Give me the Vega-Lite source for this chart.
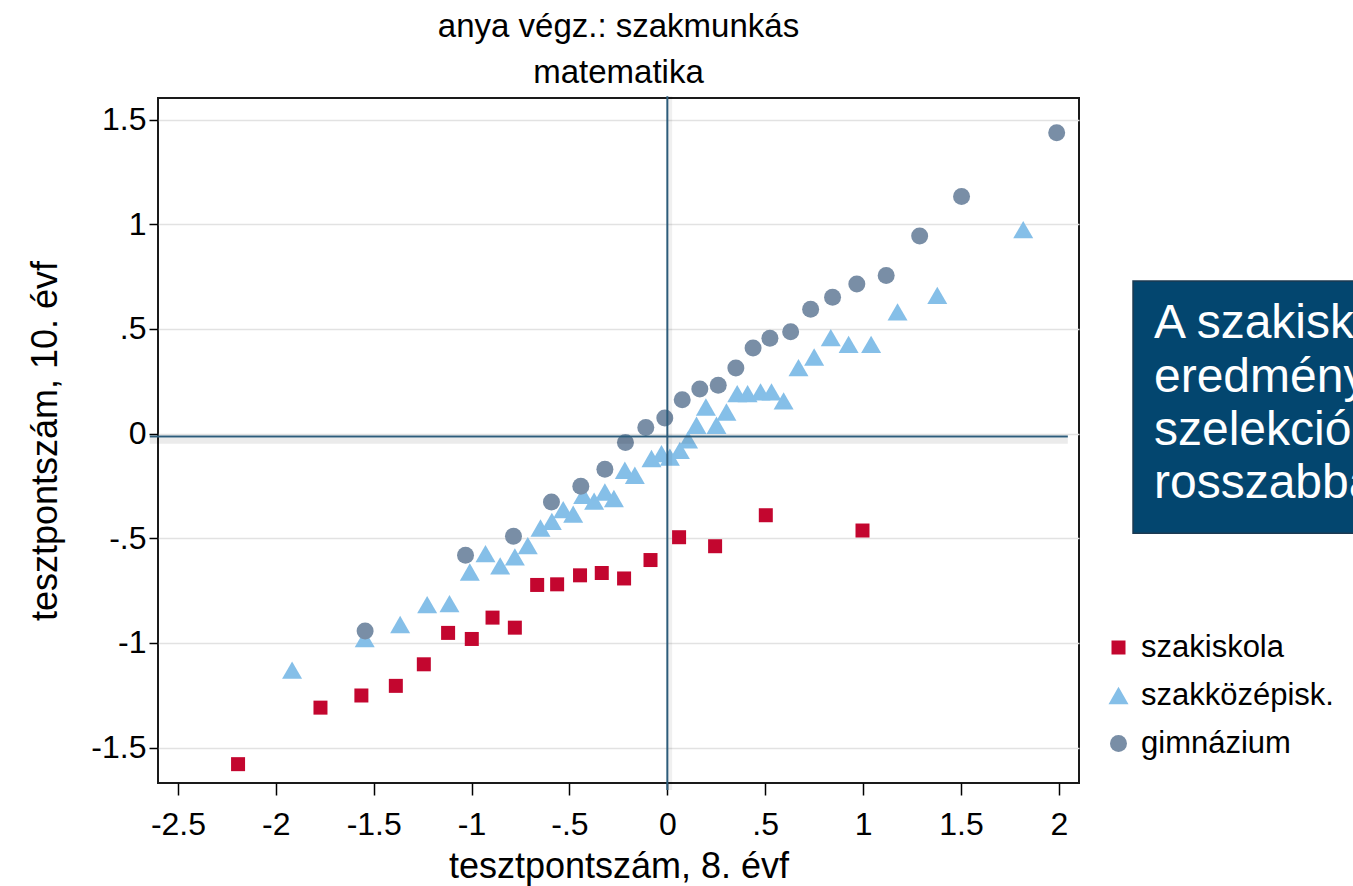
{
  "$schema": "https://vega.github.io/schema/vega-lite/v6.json",
  "autosize": {"type": "none"},
  "padding": {"left": 158, "top": 98, "right": 274, "bottom": 103},
  "width": 921,
  "height": 685,
  "background": "white",
  "title": {
    "text": ["anya végz.: szakmunkás", "matematika"],
    "font": "Liberation Sans",
    "fontSize": 33,
    "fontWeight": "normal",
    "color": "#000000",
    "anchor": "middle",
    "lineHeight": 46,
    "offset": 4
  },
  "encoding": {
    "x": {
      "field": "x", "type": "quantitative",
      "scale": {"domain": [-2.602, 2.103], "nice": false, "zero": false},
      "axis": {
        "title": "tesztpontszám, 8. évf",
        "values": [-2.5, -2, -1.5, -1, -0.5, 0, 0.5, 1, 1.5, 2],
        "labelExpr": "datum.value == 0 ? '0' : replace(toString(datum.value), '0.', '.')",
        "grid": false, "domain": false,
        "tickSize": 12, "tickColor": "#000", "tickWidth": 1.5,
        "labelFont": "Liberation Sans", "labelFontSize": 32, "labelColor": "#000",
        "labelPadding": 14, "labelFlush": false,
        "titleFont": "Liberation Sans", "titleFontSize": 36, "titleFontWeight": "normal", "titleColor": "#000",
        "titlePadding": 9
      }
    },
    "y": {
      "field": "y", "type": "quantitative",
      "scale": {"domain": [-1.669, 1.603], "nice": false, "zero": false},
      "axis": {
        "title": "tesztpontszám, 10. évf",
        "values": [-1.5, -1, -0.5, 0, 0.5, 1, 1.5],
        "labelExpr": "datum.value == 0 ? '0' : replace(toString(datum.value), '0.', '.')",
        "grid": true, "gridColor": "#e2e2e2", "gridWidth": 1.5,
        "domain": false,
        "tickSize": 9, "tickColor": "#000", "tickWidth": 1.5,
        "labelFont": "Liberation Sans", "labelFontSize": 32, "labelColor": "#000",
        "labelPadding": 3, "labelFlush": false,
        "titleFont": "Liberation Sans", "titleFontSize": 36, "titleFontWeight": "normal", "titleColor": "#000",
        "titlePadding": 26
      }
    }
  },
  "layer": [
    {
      "data": {"values": [
        {"x": -2.193, "y": -1.579, "g": "szakiskola"},
        {"x": -1.772, "y": -1.309, "g": "szakiskola"},
        {"x": -1.563, "y": -1.251, "g": "szakiskola"},
        {"x": -1.387, "y": -1.205, "g": "szakiskola"},
        {"x": -1.244, "y": -1.102, "g": "szakiskola"},
        {"x": -1.120, "y": -0.952, "g": "szakiskola"},
        {"x": -0.999, "y": -0.981, "g": "szakiskola"},
        {"x": -0.893, "y": -0.879, "g": "szakiskola"},
        {"x": -0.779, "y": -0.927, "g": "szakiskola"},
        {"x": -0.665, "y": -0.723, "g": "szakiskola"},
        {"x": -0.563, "y": -0.720, "g": "szakiskola"},
        {"x": -0.446, "y": -0.677, "g": "szakiskola"},
        {"x": -0.335, "y": -0.666, "g": "szakiskola"},
        {"x": -0.221, "y": -0.692, "g": "szakiskola"},
        {"x": -0.086, "y": -0.604, "g": "szakiskola"},
        {"x": 0.060, "y": -0.495, "g": "szakiskola"},
        {"x": 0.244, "y": -0.538, "g": "szakiskola"},
        {"x": 0.503, "y": -0.390, "g": "szakiskola"},
        {"x": 0.997, "y": -0.463, "g": "szakiskola"},
        {"x": -1.917, "y": -1.130, "g": "szakközépisk."},
        {"x": -1.546, "y": -0.979, "g": "szakközépisk."},
        {"x": -1.365, "y": -0.912, "g": "szakközépisk."},
        {"x": -1.227, "y": -0.817, "g": "szakközépisk."},
        {"x": -1.113, "y": -0.812, "g": "szakközépisk."},
        {"x": -1.009, "y": -0.661, "g": "szakközépisk."},
        {"x": -0.929, "y": -0.573, "g": "szakközépisk."},
        {"x": -0.854, "y": -0.632, "g": "szakközépisk."},
        {"x": -0.779, "y": -0.589, "g": "szakközépisk."},
        {"x": -0.713, "y": -0.535, "g": "szakközépisk."},
        {"x": -0.648, "y": -0.451, "g": "szakközépisk."},
        {"x": -0.590, "y": -0.419, "g": "szakközépisk."},
        {"x": -0.532, "y": -0.363, "g": "szakközépisk."},
        {"x": -0.481, "y": -0.385, "g": "szakközépisk."},
        {"x": -0.430, "y": -0.295, "g": "szakközépisk."},
        {"x": -0.374, "y": -0.323, "g": "szakközépisk."},
        {"x": -0.319, "y": -0.279, "g": "szakközépisk."},
        {"x": -0.273, "y": -0.310, "g": "szakközépisk."},
        {"x": -0.217, "y": -0.175, "g": "szakközépisk."},
        {"x": -0.166, "y": -0.199, "g": "szakközépisk."},
        {"x": -0.081, "y": -0.119, "g": "szakközépisk."},
        {"x": -0.030, "y": -0.096, "g": "szakközépisk."},
        {"x": 0.013, "y": -0.112, "g": "szakközépisk."},
        {"x": 0.064, "y": -0.080, "g": "szakközépisk."},
        {"x": 0.106, "y": -0.030, "g": "szakközépisk."},
        {"x": 0.149, "y": 0.040, "g": "szakközépisk."},
        {"x": 0.197, "y": 0.127, "g": "szakközépisk."},
        {"x": 0.251, "y": 0.040, "g": "szakközépisk."},
        {"x": 0.302, "y": 0.103, "g": "szakközépisk."},
        {"x": 0.357, "y": 0.191, "g": "szakközépisk."},
        {"x": 0.410, "y": 0.191, "g": "szakközépisk."},
        {"x": 0.476, "y": 0.199, "g": "szakközépisk."},
        {"x": 0.532, "y": 0.199, "g": "szakközépisk."},
        {"x": 0.594, "y": 0.156, "g": "szakközépisk."},
        {"x": 0.670, "y": 0.315, "g": "szakközépisk."},
        {"x": 0.750, "y": 0.366, "g": "szakközépisk."},
        {"x": 0.835, "y": 0.458, "g": "szakközépisk."},
        {"x": 0.926, "y": 0.426, "g": "szakközépisk."},
        {"x": 1.041, "y": 0.426, "g": "szakközépisk."},
        {"x": 1.176, "y": 0.581, "g": "szakközépisk."},
        {"x": 1.379, "y": 0.660, "g": "szakközépisk."},
        {"x": 1.818, "y": 0.974, "g": "szakközépisk."},
        {"x": -1.544, "y": -0.943, "g": "gimnázium"},
        {"x": -1.031, "y": -0.581, "g": "gimnázium"},
        {"x": -0.786, "y": -0.490, "g": "gimnázium"},
        {"x": -0.592, "y": -0.327, "g": "gimnázium"},
        {"x": -0.442, "y": -0.252, "g": "gimnázium"},
        {"x": -0.319, "y": -0.170, "g": "gimnázium"},
        {"x": -0.214, "y": -0.043, "g": "gimnázium"},
        {"x": -0.110, "y": 0.029, "g": "gimnázium"},
        {"x": -0.013, "y": 0.075, "g": "gimnázium"},
        {"x": 0.076, "y": 0.162, "g": "gimnázium"},
        {"x": 0.166, "y": 0.213, "g": "gimnázium"},
        {"x": 0.260, "y": 0.231, "g": "gimnázium"},
        {"x": 0.350, "y": 0.313, "g": "gimnázium"},
        {"x": 0.438, "y": 0.409, "g": "gimnázium"},
        {"x": 0.524, "y": 0.455, "g": "gimnázium"},
        {"x": 0.630, "y": 0.487, "g": "gimnázium"},
        {"x": 0.732, "y": 0.594, "g": "gimnázium"},
        {"x": 0.844, "y": 0.651, "g": "gimnázium"},
        {"x": 0.968, "y": 0.714, "g": "gimnázium"},
        {"x": 1.118, "y": 0.755, "g": "gimnázium"},
        {"x": 1.289, "y": 0.944, "g": "gimnázium"},
        {"x": 1.503, "y": 1.133, "g": "gimnázium"},
        {"x": 1.989, "y": 1.437, "g": "gimnázium"}
      ]},
      "mark": {"type": "point", "filled": true, "opacity": 1},
      "encoding": {
        "color": {
          "field": "g", "type": "nominal",
          "scale": {"domain": ["szakiskola", "szakközépisk.", "gimnázium"], "range": ["#C3062F", "#85BFE8", "#798EA6"]},
          "legend": {
            "title": null, "orient": "none", "legendX": 945, "legendY": 534,
            "labelFont": "Liberation Sans", "labelFontSize": 31, "labelColor": "#000",
            "labelOffset": 7, "labelLimit": 400, "rowPadding": 16, "symbolOpacity": 1
          }
        },
        "shape": {
          "field": "g", "type": "nominal",
          "scale": {"domain": ["szakiskola", "szakközépisk.", "gimnázium"], "range": ["square", "triangle-up", "circle"]},
          "legend": null
        },
        "size": {
          "field": "g", "type": "nominal",
          "scale": {"type": "ordinal", "domain": ["szakiskola", "szakközépisk.", "gimnázium"], "range": [196, 400, 289]},
          "legend": null
        }
      }
    },
    {
      "data": {"values": [{"x": -2.644, "x2": 2.046, "y": -0.034}]},
      "mark": {"type": "rule", "color": "#000000", "opacity": 0.08, "strokeWidth": 6},
      "encoding": {"x2": {"field": "x2"}}
    },
    {
      "data": {"values": [{"x": 0.012, "y": 1.611, "y2": -1.703}]},
      "mark": {"type": "rule", "color": "#000000", "opacity": 0.06, "strokeWidth": 5},
      "encoding": {"y2": {"field": "y2"}}
    },
    {
      "data": {"values": [{"x": -2.644, "x2": 2.046, "y": -0.014}]},
      "mark": {"type": "rule", "color": "#2D5C7B", "strokeWidth": 2},
      "encoding": {"x2": {"field": "x2"}}
    },
    {
      "data": {"values": [{"x": 0, "y": 1.611, "y2": -1.703}]},
      "mark": {"type": "rule", "color": "#2D5C7B", "strokeWidth": 2},
      "encoding": {"y2": {"field": "y2"}}
    },
    {
      "data": {"values": [{"x": 2.379, "x2": 3.8, "y": 0.729, "y2": -0.476}]},
      "mark": {"type": "rect", "fill": "#03466F", "stroke": "#1C3A52", "strokeWidth": 1.5},
      "encoding": {"x2": {"field": "x2"}, "y2": {"field": "y2"}}
    },
    {
      "data": {"values": [
        {"x": 2.486, "y": 0.455, "t": "A szakiskola"},
        {"x": 2.486, "y": 0.200, "t": "eredménye"},
        {"x": 2.486, "y": -0.055, "t": "szelekció"},
        {"x": 2.486, "y": -0.310, "t": "rosszabbak"}
      ]},
      "mark": {"type": "text", "align": "left", "baseline": "alphabetic", "font": "Liberation Sans", "fontSize": 48, "color": "#ffffff"},
      "encoding": {"text": {"field": "t"}}
    }
  ],
  "config": {
    "view": {"stroke": "#1a1a1a", "strokeWidth": 2},
    "font": "Liberation Sans"
  }
}
